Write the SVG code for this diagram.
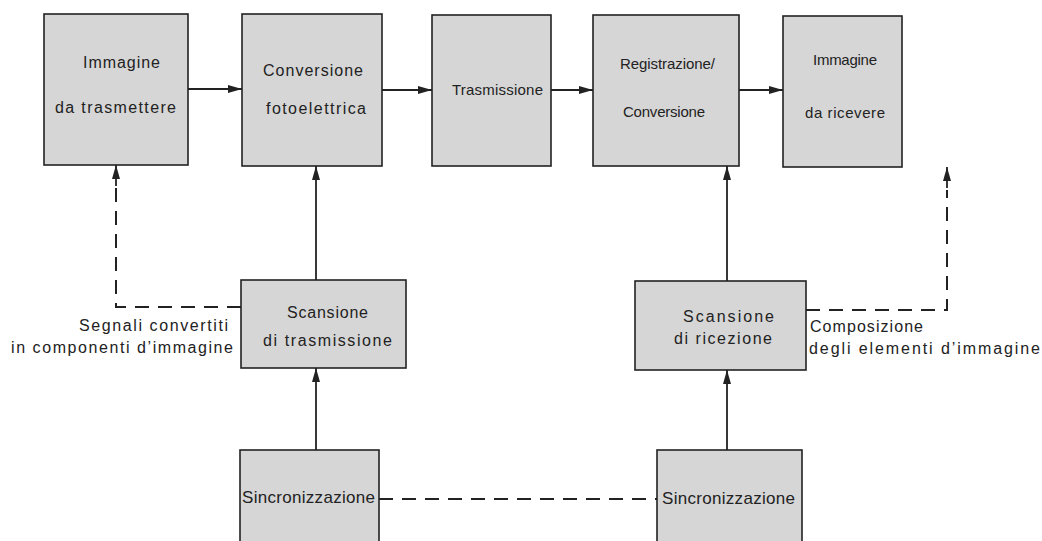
<svg xmlns="http://www.w3.org/2000/svg" width="1042" height="541" viewBox="0 0 1042 541">
<defs>
<style>
.box{fill:#d6d6d6;stroke:#222;stroke-width:1.6}
.t{font-family:"Liberation Sans",Arial,sans-serif;font-size:16px;fill:#222}
.s{font-size:15px}
.b{font-size:17px}
.ln{fill:none;stroke:#222;stroke-width:1.8}
.dash{fill:none;stroke:#222;stroke-width:2;stroke-dasharray:14 9}
</style>
<marker id="ah" viewBox="0 0 14 8" refX="14" refY="4" markerWidth="14" markerHeight="8" markerUnits="userSpaceOnUse" orient="auto">
<path d="M0,0 L14,4 L0,8 Z" fill="#222"/>
</marker>
</defs>
<rect width="1042" height="541" fill="#fff"/>
<g id="connectors">
<line class="ln" x1="188" y1="89" x2="242" y2="89" marker-end="url(#ah)"/>
<line class="ln" x1="382" y1="90" x2="432" y2="90" marker-end="url(#ah)"/>
<line class="ln" x1="551" y1="90" x2="593" y2="90" marker-end="url(#ah)"/>
<line class="ln" x1="739" y1="90" x2="783" y2="90" marker-end="url(#ah)"/>
<line class="ln" x1="316" y1="280" x2="316" y2="166" marker-end="url(#ah)"/>
<line class="ln" x1="727" y1="281" x2="727" y2="166" marker-end="url(#ah)"/>
<line class="ln" x1="316" y1="450" x2="316" y2="368" marker-end="url(#ah)"/>
<line class="ln" x1="727" y1="450" x2="727" y2="370" marker-end="url(#ah)"/>
<path class="dash" d="M241,307 H116 V187"/>
<line class="ln" x1="116" y1="186" x2="116" y2="165" marker-end="url(#ah)"/>
<path class="dash" d="M806,310 H947 V190"/>
<line class="ln" x1="947" y1="188" x2="947" y2="167" marker-end="url(#ah)"/>
<line class="dash" x1="379" y1="499" x2="657" y2="499"/>
</g>
<g id="n1"><rect class="box" x="44" y="14" width="144" height="151"/>
<text class="t" x="83" y="68" textLength="77">Immagine</text>
<text class="t" x="55" y="113" textLength="121">da trasmettere</text></g>
<g id="n2"><rect class="box" x="242" y="14" width="140" height="152"/>
<text class="t" x="263" y="76" textLength="100">Conversione</text>
<text class="t" x="266" y="114" textLength="100">fotoelettrica</text></g>
<g id="n3"><rect class="box" x="432" y="15" width="119" height="151"/>
<text class="t s" x="452" y="95" textLength="91">Trasmissione</text></g>
<g id="n4"><rect class="box" x="593" y="15" width="146" height="151"/>
<text class="t s" x="620" y="69" textLength="95">Registrazione/</text>
<text class="t s" x="623" y="117" textLength="82">Conversione</text></g>
<g id="n5"><rect class="box" x="783" y="16" width="119" height="151"/>
<text class="t s" x="813" y="65" textLength="64">Immagine</text>
<text class="t s" x="805" y="118" textLength="80">da ricevere</text></g>
<g id="n6"><rect class="box" x="241" y="280" width="165" height="88"/>
<text class="t" x="287" y="318" textLength="81">Scansione</text>
<text class="t" x="263" y="346" textLength="129">di trasmissione</text></g>
<g id="n7"><rect class="box" x="635" y="281" width="171" height="89"/>
<text class="t" x="683" y="322" textLength="91">Scansione</text>
<text class="t" x="674" y="344" textLength="98">di ricezione</text></g>
<g id="n8"><rect class="box" x="240" y="450" width="139" height="100"/>
<text class="t b" x="242" y="503" textLength="133">Sincronizzazione</text></g>
<g id="n9"><rect class="box" x="657" y="450" width="145" height="100"/>
<text class="t b" x="662" y="504" textLength="133">Sincronizzazione</text></g>
<g id="labels">
<text class="t" x="79" y="331" textLength="149">Segnali convertiti</text>
<text class="t" x="11" y="353" textLength="222">in componenti d’immagine</text>
<text class="t" x="810" y="332" textLength="113">Composizione</text>
<text class="t" x="809" y="354" textLength="231">degli elementi d’immagine</text>
</g>
</svg>
